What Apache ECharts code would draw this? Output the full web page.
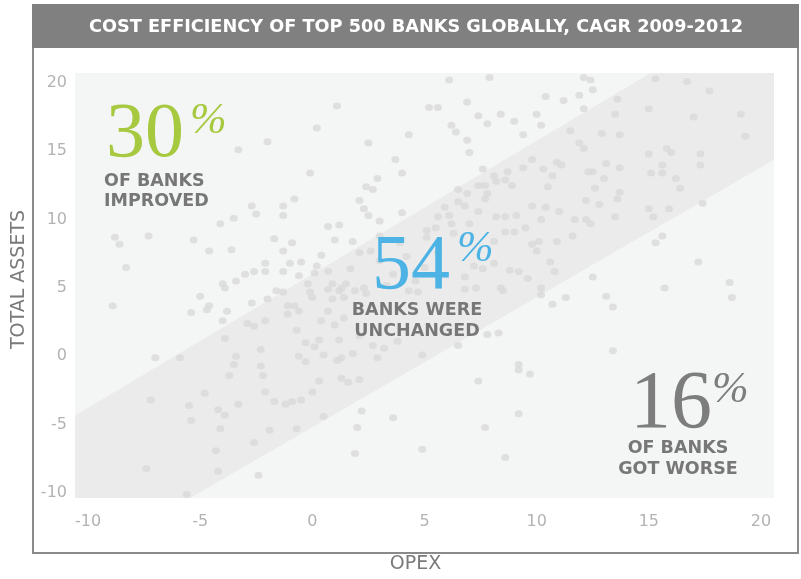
<!DOCTYPE html>
<html><head><meta charset="utf-8">
<script src="https://cdn.jsdelivr.net/npm/echarts@6/dist/echarts.min.js"></script>
<style>html,body{margin:0;padding:0;background:#fff}#chart{width:801px;height:579px}</style>
</head><body><div id="chart"></div>
<script>
const chartTitle = 'COST EFFICIENCY OF TOP 500 BANKS GLOBALLY, CAGR 2009-2012';
const xName = 'OPEX';
const yName = 'TOTAL ASSETS';
const xTicks = [-10, -5, 0, 5, 10, 15, 20];
const yTicks = [-10, -5, 0, 5, 10, 15, 20];
const xRange = [-10.58, 20.58];
const yRange = [-10.36, 20.72];
// "unchanged" band edges (OPEX, TOTAL ASSETS)
const bandUpper = [[-10.58, -4.33], [15.08, 20.72]];
const bandLower = [[-5.45, -10.36], [20.58, 14.38]];
const shareValues = ['30', '54', '16'];
const shareCaptions = [['OF BANKS', 'IMPROVED'], ['BANKS WERE', 'UNCHANGED'], ['OF BANKS', 'GOT WORSE']];
// banks: [OPEX CAGR, TOTAL ASSETS CAGR]
const banks = [
[1.1,18.3],[0.2,16.7],[4.3,16.2],[-2.0,15.7],[-3.3,15.1],[2.5,15.6],[3.7,14.4],[-0.1,13.4],[4.0,13.4],[2.9,13.0],
[2.4,12.4],[2.7,12.2],[-0.8,11.5],[-1.3,11.0],[-2.7,11.0],[-2.5,10.4],[-1.3,10.3],[-3.5,10.1],[-4.1,9.7],[2.1,11.4],
[2.3,10.8],[2.5,10.3],[3.0,9.9],[4.0,10.5],[0.7,9.5],[1.2,9.6],[-8.8,8.7],[-8.6,8.2],[-7.3,8.8],[-5.3,8.5],
[-4.6,7.7],[-3.6,7.8],[-1.7,8.6],[-0.9,8.3],[-1.3,7.7],[1.0,8.5],[1.8,8.4],[3.0,8.8],[2.1,7.6],[2.6,7.7],
[0.4,7.4],[-8.3,6.5],[-2.1,6.8],[-2.6,6.2],[-3.0,6.0],[-2.1,6.2],[-1.3,6.2],[-1.0,6.8],[-0.5,6.9],[0.2,6.6],
[-0.6,5.9],[0.1,6.1],[0.7,6.2],[-3.4,5.5],[-4.0,5.3],[1.7,6.4],
[6.1,20.2],[7.9,20.4],[12.1,20.4],[12.4,20.2],[12.5,19.5],[15.3,20.3],[16.7,20.1],[17.7,19.4],[10.4,19.0],[11.2,18.7],
[11.9,19.1],[13.6,18.8],[6.9,18.6],[5.2,18.2],[5.6,18.2],[12.1,18.1],[15.0,18.1],[13.5,17.7],[7.4,17.6],[8.4,17.7],
[10.0,17.7],[17.0,17.5],[19.1,17.7],[6.2,16.9],[6.4,16.4],[7.8,17.0],[9.0,17.2],[10.2,16.9],[11.5,16.5],[9.4,16.2],
[6.9,15.8],[7.0,14.9],[12.9,16.3],[13.7,16.2],[19.3,16.1],[11.9,15.6],[12.1,15.2],[15.0,14.8],[15.8,15.2],[16.0,14.9],
[17.3,14.8],[7.6,13.7],[9.8,14.4],[9.4,13.8],[8.7,13.5],[8.1,13.2],[8.2,12.8],[10.3,13.7],[10.9,14.2],[11.1,14.0],
[13.1,14.1],[13.7,13.8],[12.3,13.5],[12.5,13.5],[10.7,13.2],[13.0,13.0],[15.6,14.0],[15.6,13.4],[15.1,13.4],[17.3,14.0],
[16.2,13.0],[16.4,12.3],[8.6,12.9],[8.9,12.5],[7.4,12.5],[7.7,12.5],[6.5,12.2],[6.9,11.9],[10.5,12.4],[12.6,12.3],
[13.7,12.0],[13.6,11.5],[7.8,11.9],[7.7,11.5],[12.2,11.4],[12.8,11.1],[9.8,11.0],[10.4,10.9],[11.0,10.6],[13.5,10.2],
[15.0,10.8],[15.2,10.2],[15.9,10.8],[17.4,11.2],[6.5,11.3],[6.8,11.0],[5.9,10.9],[7.4,10.6],[8.2,10.2],[8.6,10.2],
[9.1,10.3],[10.2,10.0],[11.7,10.0],[12.2,10.0],[12.4,9.7],[5.6,10.2],[5.5,9.4],[6.1,10.3],[6.2,9.7],[7.0,9.7],
[9.5,9.4],[8.6,9.1],[9.0,9.1],[11.6,8.8],[6.3,9.0],[15.6,8.8],[15.3,8.3],[9.8,8.2],[10.1,8.4],[10.0,7.7],
[10.9,8.4],[8.1,8.4],[17.2,6.9],[10.6,6.9],[10.8,6.2],[8.8,6.3],[9.2,6.2],[9.6,5.7],[12.5,5.8],[18.6,5.4],
[6.8,5.8],[7.2,6.6],[7.6,6.4],[8.1,6.8],[5.1,9.2],[5.1,8.7],
[-8.9,3.7],[-5.0,4.4],[-3.9,5.0],[-4.6,3.7],[-4.7,3.4],[-5.4,3.2],[-3.8,3.3],[-4.0,2.6],[-2.7,3.9],[-2.0,4.2],
[-1.6,4.8],[-1.3,4.7],[-2.9,2.4],[-2.6,2.2],[-2.1,2.6],[-1.1,3.1],[-0.8,3.7],[-0.6,3.3],[0.0,4.3],[-0.1,4.7],
[0.4,2.6],[0.9,4.2],[1.4,4.3],[0.7,3.3],[1.0,2.3],[1.4,2.8],[-0.7,1.9],[-3.9,1.3],[-2.3,0.5],[-3.4,0.0],
[-3.5,-0.6],[-3.7,-1.4],[-2.3,-0.7],[-2.2,-1.4],[-7.0,-0.1],[-5.9,-0.1],[-0.3,1.0],[0.1,0.7],[0.5,0.1],[-0.6,0.0],
[-0.3,-0.4],[1.2,1.2],[1.3,-0.1],[1.8,0.2],[2.7,0.8],[3.2,0.6],[2.9,-0.1],[0.3,-1.8],[1.3,-1.6],[1.6,-1.9],
[2.1,-1.7],[0.0,-2.6],[-2.1,-2.6],[-1.7,-3.3],[-1.2,-3.5],[-0.9,-3.3],[-0.5,-3.2],[-4.8,-2.7],[-7.2,-3.2],[-5.5,-3.6],
[-4.2,-3.9],[-3.9,-4.3],[-3.3,-3.5],[-5.4,-4.7],[-4.1,-5.3],[-1.9,-5.4],[-0.7,-5.3],[0.5,-4.4],[-2.6,-6.3],[-4.3,-6.9],
[-7.4,-8.2],[-4.2,-8.4],[-2.4,-8.7],[-5.6,-10.1],[2.2,-4.0],[2.0,-5.2],[3.6,-4.5],[1.9,-7.1],[4.9,-6.8],[0.7,4.9],
[1.3,5.0],[1.9,4.8],[2.4,4.6],[4.3,4.8],[4.7,4.7],[-1.1,3.7],[2.1,1.5],[3.8,1.1],[4.9,0.1],
[11.3,4.3],[13.1,4.4],[13.4,3.6],[15.7,5.0],[18.7,4.3],[13.4,0.4],[9.2,-0.6],[9.2,-1.0],[9.7,-1.3],[7.4,-1.8],
[9.2,-4.2],[7.7,-5.2],[8.6,-7.4],[6.5,0.8],[7.8,1.6],[8.3,1.7],[8.5,4.8],[10.2,4.5],[10.2,5.0],[6.8,4.9],
[-0.2,5.3],[0.9,5.3],[1.2,4.8],[1.5,5.3],[2.3,5.0],[7.3,5.0],[8.4,5.0],[10.7,3.8],[0.3,1.2],[1.1,-0.3],
[3.0,7.0],[3.6,6.0],[4.2,7.3],[5.0,6.5],[4.6,5.5],[3.3,5.2],[5.6,7.6],[3.9,8.3]
];

const chart = echarts.init(document.getElementById('chart'), null, {renderer: 'canvas'});
const labelFont = 'DejaVu Sans';
const capFont = 'bold 17.5px "DejaVu Sans"';
const numFont = '78px "Liberation Serif"';
const pctFont = 'italic 44px "Liberation Serif"';
function txt(x, y, text, font, fill, align, z) {
  return {type: 'text', x: x, y: y, z: z || 100, silent: true,
    style: {text: text, font: font, fill: fill, textAlign: align || 'left', textVerticalAlign: 'middle'}};
}
const capColor = '#777777';
chart.setOption({
  animation: false,
  grid: {left: 75, right: 27, top: 73, bottom: 76, show: true, backgroundColor: '#f4f5f5', borderWidth: 0},
  xAxis: {
    type: 'value', min: xRange[0], max: xRange[1],
    name: xName, nameLocation: 'middle', nameGap: 57,
    nameTextStyle: {fontFamily: labelFont, fontSize: 19, color: '#7a7a7a', padding: [0, 18, 0, 0]},
    axisLine: {show: false}, axisTick: {show: false}, splitLine: {show: false},
    axisLabel: {customValues: xTicks, margin: 16, color: '#b3b3b3', fontFamily: labelFont, fontSize: 16}
  },
  yAxis: {
    type: 'value', min: yRange[0], max: yRange[1],
    name: yName, nameLocation: 'middle', nameGap: 46,
    nameTextStyle: {fontFamily: labelFont, fontSize: 19, color: '#7a7a7a', padding: [0, 0, 0, 12]},
    axisLine: {show: false}, axisTick: {show: false}, splitLine: {show: false},
    axisLabel: {customValues: yTicks, margin: 8, color: '#b3b3b3', fontFamily: labelFont, fontSize: 16}
  },
  series: [
    {
      type: 'custom', silent: true, z: 1, data: [0],
      renderItem: function (params, api) {
        const poly = [bandUpper[0], bandUpper[1], [xRange[1], yRange[1]], bandLower[1], bandLower[0], [xRange[0], yRange[0]]];
        return {type: 'polygon', shape: {points: poly.map(function (p) { return api.coord(p); })}, style: {fill: '#ebebeb'}};
      }
    },
    {
      type: 'scatter', silent: true, z: 2, data: banks,
      symbol: 'circle', symbolSize: [8, 7],
      itemStyle: {color: '#d9d9d9'}
    }
  ],
  graphic: [
    {type: 'rect', silent: true, z: 90, shape: {x: 32, y: 4, width: 767, height: 44}, style: {fill: '#808080'}},
    txt(416, 27, chartTitle, 'bold 17.7px "DejaVu Sans"', '#ffffff', 'center'),
    {type: 'polyline', silent: true, z: 90, shape: {points: [[33, 48], [33, 553], [798, 553], [798, 48]]}, style: {stroke: '#8a8a8a', lineWidth: 2, fill: null}},
    txt(106, 135.5, shareValues[0], numFont, '#a6c93f'),
    txt(190, 121, '%', pctFont, '#a6c93f'),
    txt(104, 181, shareCaptions[0][0], capFont, capColor),
    txt(104, 201.5, shareCaptions[0][1], capFont, capColor),
    txt(372, 267.5, shareValues[1], numFont, '#4db3e4'),
    txt(457, 249, '%', pctFont, '#4db3e4'),
    txt(417, 310, shareCaptions[1][0], capFont, capColor, 'center'),
    txt(417, 331, shareCaptions[1][1], capFont, capColor, 'center'),
    txt(630, 405.5, shareValues[2], '82px "Liberation Serif"', '#7d7d7d'),
    txt(712, 390.5, '%', pctFont, '#7d7d7d'),
    txt(678, 448.3, shareCaptions[2][0], capFont, capColor, 'center'),
    txt(678, 469.7, shareCaptions[2][1], capFont, capColor, 'center')
  ]
});
</script></body></html>
